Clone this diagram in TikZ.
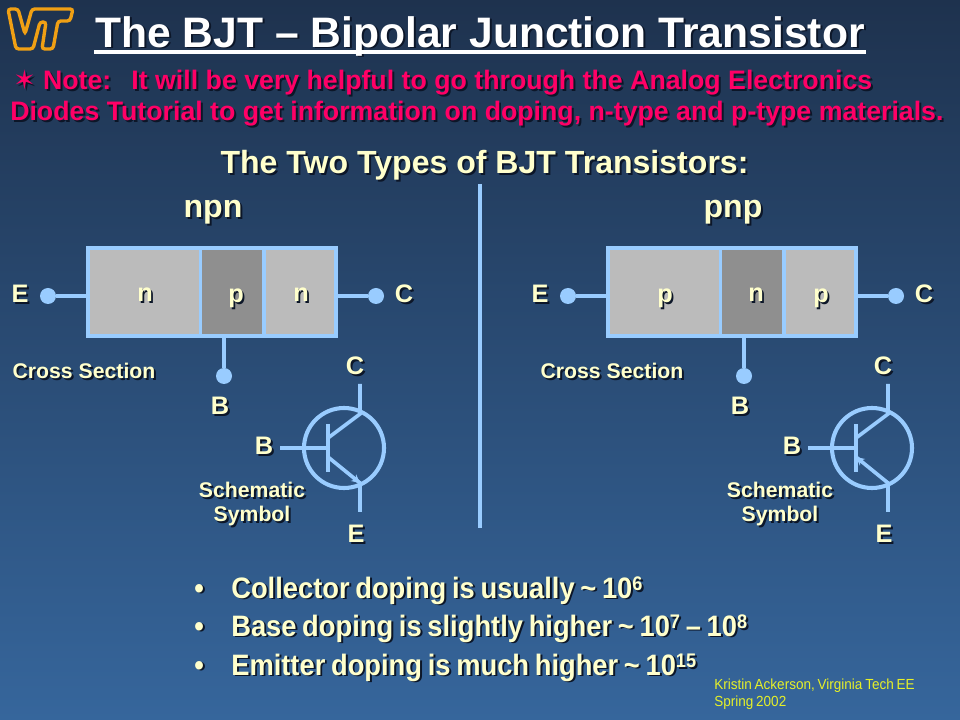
\documentclass[tikz,border=0pt]{standalone}
\usepackage{fontspec}
\setmainfont{Liberation Sans}[Ligatures=TeX]
\newfontfamily\symfont{DejaVu Sans}
\newfontfamily\tightfont{Liberation Sans}[FakeStretch=0.925, WordSpace=0.75, Ligatures=TeX]
\usetikzlibrary{arrows.meta, positioning, calc}
\definecolor{mytop}{RGB}{30,50,78}
\definecolor{mybottom}{RGB}{54,102,156}
\definecolor{mycream}{RGB}{255,255,204}
\definecolor{myred}{RGB}{255,0,102}
\definecolor{myblue}{RGB}{153,204,255}
\definecolor{mylight}{RGB}{187,187,187}
\definecolor{mydark}{RGB}{143,143,143}
\definecolor{myamber}{RGB}{240,160,20}
\definecolor{myyellow}{RGB}{230,240,40}
\definecolor{myshade}{RGB}{12,22,40}
% text with a small drop shadow behind it
\newcommand{\shd}[1]{\leavevmode\rlap{\kern1.4pt\raisebox{-1.4pt}[0pt][0pt]{\textcolor{myshade}{#1}}}#1}
\newcommand{\sps}[1]{\raisebox{5.5pt}{\fontsize{14}{14}\selectfont #1}}
\tikzset{
  lbl/.style={inner sep=0pt, align=center, font=\bfseries\fontsize{18}{18}\selectfont, text=mycream},
  head/.style={inner sep=0pt, align=center, font=\bfseries\fontsize{22.8}{23}\selectfont, text=mycream},
  small/.style={inner sep=0pt, align=center, font=\bfseries\fontsize{15.1}{17.7}\selectfont, text=mycream},
  note/.style={inner sep=0pt, anchor=west, font=\bfseries\fontsize{19}{19}\selectfont, text=myred},
  point/.style={inner sep=0pt, anchor=base west, font=\tightfont\bfseries\fontsize{21}{22}\selectfont, text=mycream},
  cellA/.style={inner sep=0pt, fill=mylight, minimum height=84*0.025cm},
  cellB/.style={inner sep=0pt, fill=mydark, minimum height=84*0.025cm},
  frame/.style={inner sep=0pt, fill=myblue, minimum width=252*0.025cm, minimum height=92*0.025cm},
  dot/.style={circle, inner sep=0pt, fill=myblue, minimum size=16*0.025cm},
  wire/.style={color=myblue, line width=2.9pt},
  sym/.style={color=myblue, line width=2.6pt},
  ring/.style={circle, inner sep=0pt, draw=myblue, line width=2.9pt, minimum size=80*0.025cm}
}
\begin{document}
\begin{tikzpicture}[x=0.025cm, y=-0.025cm]
\shade[top color=mytop, bottom color=mybottom] (0,0) rectangle (960,720);

%--- heading ---
\draw[myamber, line width=2.4pt, rounded corners=2pt]
  (8,9) -- (18,9) -- (25,34) -- (32,9) -- (73,9) -- (70,21) -- (58,21) -- (53,49) -- (42,49)
  -- (46,22) -- (40,22) -- (33,49) -- (16,49) -- cycle;
\node[inner sep=0pt, font=\bfseries\fontsize{30.3}{31}\selectfont, text=white] (title) at (480,36)
  {\shd{The BJT – Bipolar Junction Transistor}};
\draw[white, line width=3.2pt] (94,52) -- (866,52);
\node[note] (note1) at (13,82)
  {\shd{{\symfont ✶} Note:\hspace{14.3pt}It will be very helpful to go through the Analog Electronics}};
\node[note] (note2) at (10,114)
  {\shd{Diodes Tutorial to get information on doping, n-type and p-type materials.}};
\node[head] (types) at (484.5,165) {\shd{The Two Types of BJT Transistors:}};
\coordinate (septop) at (480,184);
\coordinate (sepbot) at (480,528);
\draw[wire] (septop) -- (sepbot);

%--- NPN column ---
\node[head] (nlbl) at (213,212) {\shd{npn}};
\node[frame] (nbox) at (212,292) {};
\node[cellA, minimum width=109*0.025cm] (nn1) at (144.5,292) {};
\node[cellB, minimum width=60*0.025cm]  (np)  at (232,292) {};
\node[cellA, minimum width=68*0.025cm]  (nn2) at (300,292) {};
\node[lbl] (nn1t) at (145,295) {\shd{n}};
\node[lbl] (npt)  at (236,298) {\shd{p}};
\node[lbl] (nn2t) at (301,295) {\shd{n}};
\node[dot] (nedot) at (48,296) {};
\node[dot] (ncdot) at (376,296) {};
\node[dot] (nbdot) at (224,376) {};
\draw[wire] (nedot) -- (nedot -| nbox.west);
\draw[wire] (ncdot) -- (ncdot -| nbox.east);
\draw[wire] (nbdot) -- (nbdot |- nbox.south);
\node[lbl] (nel) at (20,294) {\shd{E}};
\node[lbl] (ncl) at (404,294) {\shd{C}};
\node[lbl] (nbl) at (220,406) {\shd{B}};
\node[small] (ncross) at (84,371) {\shd{Cross Section}};

% npn symbol
\node[ring] (nring) at (344,448) {};
\coordinate (nbar1) at (328,424);
\coordinate (nbar2) at (328,472);
\coordinate (nb0) at (280,448);
\coordinate (nc0) at (360,384);
\coordinate (nc1) at (360,414);
\coordinate (ncb) at (328,438);
\coordinate (neb) at (328,457);
\coordinate (ne1) at (360,483);
\coordinate (ne0) at (360,512);
\draw[sym] (nbar1) -- (nbar2);
\draw[sym] (nb0) -- (nb0 -| nbar1);
\draw[sym] (nc0) -- (nc1) -- (ncb);
\draw[sym] (ne0) -- (ne1) -- (neb);
\draw[myblue, line width=1.4pt, -{Stealth[length=6pt, width=6pt]}] (neb) -- (ne1);
\node[lbl] (nsc) at (355,366) {\shd{C}};
\node[lbl] (nsb) at (264,446) {\shd{B}};
\node[lbl] (nse) at (356,534) {\shd{E}};
\node[small] (nsch) at (252,504) {\shd{Schematic}\\\shd{Symbol}};

%--- PNP column ---
\node[head] (plbl) at (733,212) {\shd{pnp}};
\node[frame] (pbox) at (732,292) {};
\node[cellA, minimum width=109*0.025cm] (pp1) at (664.5,292) {};
\node[cellB, minimum width=60*0.025cm]  (pn)  at (752,292) {};
\node[cellA, minimum width=68*0.025cm]  (pp2) at (820,292) {};
\node[lbl] (pp1t) at (665,298) {\shd{p}};
\node[lbl] (pnt)  at (756,295) {\shd{n}};
\node[lbl] (pp2t) at (821,298) {\shd{p}};
\node[dot] (pedot) at (568,296) {};
\node[dot] (pcdot) at (896,296) {};
\node[dot] (pbdot) at (744,376) {};
\draw[wire] (pedot) -- (pedot -| pbox.west);
\draw[wire] (pcdot) -- (pcdot -| pbox.east);
\draw[wire] (pbdot) -- (pbdot |- pbox.south);
\node[lbl] (pel) at (540,294) {\shd{E}};
\node[lbl] (pcl) at (924,294) {\shd{C}};
\node[lbl] (pbl) at (740,406) {\shd{B}};
\node[small] (pcross) at (612,371) {\shd{Cross Section}};

% pnp symbol
\node[ring] (pring) at (872,448) {};
\coordinate (pbar1) at (856,424);
\coordinate (pbar2) at (856,472);
\coordinate (pb0) at (808,448);
\coordinate (pc0) at (888,384);
\coordinate (pc1) at (888,414);
\coordinate (pcb) at (856,438);
\coordinate (peb) at (856,457);
\coordinate (pe1) at (888,483);
\coordinate (pe0) at (888,512);
\draw[sym] (pbar1) -- (pbar2);
\draw[sym] (pb0) -- (pb0 -| pbar1);
\draw[sym] (pc0) -- (pc1) -- (pcb);
\draw[sym] (pe0) -- (pe1) -- (peb);
\draw[myblue, line width=1.4pt, -{Stealth[length=6pt, width=6pt]}] (pe1) -- (peb);
\node[lbl] (psc) at (883,366) {\shd{C}};
\node[lbl] (psb) at (792,446) {\shd{B}};
\node[lbl] (pse) at (884,534) {\shd{E}};
\node[small] (psch) at (780,504) {\shd{Schematic}\\\shd{Symbol}};

%--- doping notes ---
\node[point] (b1) at (194,598) {\shd{•}};
\node[point] (t1) at (231,598) {\shd{Collector doping is usually \textasciitilde{} 10\sps{6}}};
\node[point] (b2) at (194,636) {\shd{•}};
\node[point] (t2) at (231,636) {\shd{Base doping is slightly higher \textasciitilde{} 10\sps{7} – 10\sps{8}}};
\node[point] (b3) at (194,675) {\shd{•}};
\node[point] (t3) at (231,675) {\shd{Emitter doping is much higher \textasciitilde{} 10\sps{15}}};
\node[inner sep=0pt, anchor=north west, align=left, font=\tightfont\fontsize{10.4}{12}\selectfont, text=myyellow] (credit) at (714,678.5)
  {Kristin Ackerson, Virginia Tech EE\\Spring 2002};
\end{tikzpicture}
\end{document}
